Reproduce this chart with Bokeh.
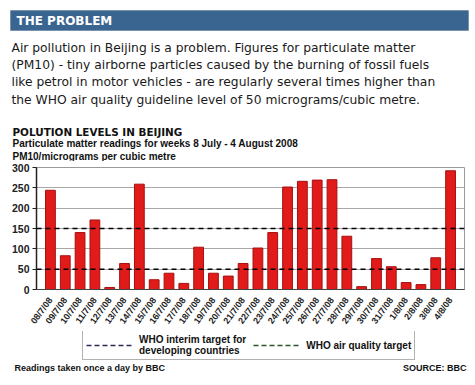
from bokeh.plotting import figure
from bokeh.layouts import column
from bokeh.models import (FactorRange, Range1d, Span, Label, BoxAnnotation, Legend,
                          LegendItem, FixedTicker)
from bokeh.embed import file_html
from bokeh.resources import INLINE

dates = ["08/7/08", "09/7/08", "10/7/08", "11/7/08", "12/7/08", "13/7/08", "14/7/08",
         "15/7/08", "16/7/08", "17/7/08", "18/7/08", "19/7/08", "20/7/08", "21/7/08",
         "22/7/08", "23/7/08", "24/7/08", "25/7/08", "26/7/08", "27/7/08", "28/7/08",
         "29/7/08", "30/7/08", "31/7/08", "1/8/08", "2/8/08", "3/8/08", "4/8/08"]
pm10 = [244, 83, 140, 171, 5, 64, 259, 24, 40, 15, 104, 40, 33, 64,
        102, 140, 252, 266, 269, 270, 131, 7, 76, 56, 17, 12, 78, 292]
y_ticks = [0, 50, 100, 150, 200, 250, 300]
interim_target = 150
who_target = 50

header = "THE PROBLEM"
para = ["Air pollution in Beijing is a problem. Figures for particulate matter",
        "(PM10) - tiny airborne particles caused by the burning of fossil fuels",
        "like petrol in motor vehicles - are regularly several times higher than",
        "the WHO air quality guideline level of 50 micrograms/cubic metre."]
chart_title = "POLUTION LEVELS IN BEIJING"
chart_sub = "Particulate matter readings for weeks 8 July - 4 August 2008"
chart_units = "PM10/micrograms per cubic metre"
legend_labels = ["WHO interim target for\ndeveloping countries", "WHO air quality target"]
foot_left = "Readings taken once a day by BBC"
foot_right = "SOURCE: BBC"

W = 475
TOP_H = 161            # page y 0 .. 161
CH_TOP, FRAME_H, CH_BOT = 6, 124, 40
CH_H = CH_TOP + FRAME_H + CH_BOT   # page y 161 .. 331
BOT_Y0 = TOP_H + CH_H
BOT_H = 385 - BOT_Y0   # page y 331 .. 385


def blank(h, y0):
    f = figure(width=W, height=h, output_backend="svg", toolbar_location=None,
               x_axis_location=None, y_axis_location=None, frame_align=False,
               x_range=Range1d(0, W), y_range=Range1d(y0 + h, y0),
               min_border=0, min_border_left=0, min_border_right=0,
               min_border_top=0, min_border_bottom=0)
    f.grid.grid_line_color = None
    f.outline_line_color = None
    f.background_fill_color = "white"
    f.border_fill_color = "white"
    return f


def lab(f, text, px, py, size, font="Liberation Sans", style="bold", color="#111111",
        align="left", baseline="middle"):
    f.add_layout(Label(x=px, y=py, text=text, text_font=font, text_font_style=style,
                       text_font_size=size, text_color=color, text_align=align,
                       text_baseline=baseline))


# ---- top: header, paragraph, chart titles (data units = page pixels)
top = blank(TOP_H, 0)
top.add_layout(BoxAnnotation(left=10, right=468, top=10, bottom=30,
                             fill_color="#3a6590", fill_alpha=1, line_color="#2c5070"))
lab(top, header, 16, 20, "12px", font="DejaVu Sans", color="white")
for i, line in enumerate(para):
    lab(top, line, 11, [47, 64, 81.5, 99.5][i], "12.3px", font="DejaVu Sans", style="normal",
        color="#1a1a1a")
lab(top, chart_title, 12, 131.5, "10.4px", font="DejaVu Sans")
lab(top, chart_sub, 12, 143, "10px")
lab(top, chart_units, 12, 155.5, "10px")

# ---- chart
p = figure(width=W, height=CH_H, output_backend="svg", toolbar_location=None,
           frame_align=False,
           x_range=FactorRange(factors=dates, range_padding=0.44, range_padding_units="absolute"),
           y_range=Range1d(0, 300),
           min_border_left=36, min_border_right=11, min_border_top=CH_TOP,
           min_border_bottom=CH_BOT)
p.background_fill_color = "white"
p.border_fill_color = "white"
p.outline_line_color = "#9a9a9a"

p.vbar(x=dates, top=pm10, width=0.66, fill_color="#e11a1a", line_color="#a51010", line_width=1)

p.xgrid.grid_line_color = None
p.ygrid.grid_line_color = "#a8a8a8"
p.ygrid.ticker = FixedTicker(ticks=y_ticks)

p.yaxis.ticker = FixedTicker(ticks=y_ticks)
p.yaxis.major_label_text_font = "Liberation Sans"
p.yaxis.major_label_text_font_style = "bold"
p.yaxis.major_label_text_font_size = "10.5px"
p.yaxis.major_label_text_color = "#222222"
p.yaxis.axis_line_color = "#222222"
p.yaxis.axis_line_width = 1.5
p.yaxis.major_tick_in = 0
p.yaxis.major_tick_out = 4
p.yaxis.major_tick_line_color = "#222222"
p.yaxis.minor_tick_line_color = None
p.yaxis.major_label_standoff = 3

p.xaxis.major_label_orientation = 0.94
p.xaxis.major_label_text_font = "Liberation Sans"
p.xaxis.major_label_text_font_style = "bold"
p.xaxis.major_label_text_font_size = "9px"
p.xaxis.major_label_text_color = "#222222"
p.xaxis.axis_line_color = "#444444"
p.xaxis.major_tick_line_color = None
p.xaxis.major_label_standoff = 3

for yv in [interim_target, who_target]:
    p.add_layout(Span(location=yv, dimension="width", line_color="black",
                      line_dash="5 4", line_width=1.5))

# ---- bottom: legend and footer
bot = blank(BOT_H, BOT_Y0)
nan = float("nan")
r1 = bot.line(x=[nan], y=[nan], line_color="#2a2a55", line_dash="5 3", line_width=1.5)
r2 = bot.line(x=[nan], y=[nan], line_color="#2a552a", line_dash="5 3", line_width=1.5)
leg = Legend(items=[LegendItem(label=legend_labels[0], renderers=[r1]),
                    LegendItem(label=legend_labels[1], renderers=[r2])],
             orientation="horizontal", location=(82, 385 - 360),
             label_text_font="Liberation Sans", label_text_font_style="bold",
             label_text_font_size="10px", label_text_color="#111111",
             glyph_width=48, glyph_height=10, label_standoff=5, spacing=7,
             padding=3, margin=0, border_line_color="#666666", border_line_width=1.5,
             background_fill_alpha=1, label_height=11)
bot.add_layout(leg)
lab(bot, foot_left, 14, 367.5, "9px")
lab(bot, foot_right, 466, 367.5, "9px", align="right")

layout = column(top, p, bot, spacing=0)
open("out.html", "w").write(file_html(layout, INLINE))
